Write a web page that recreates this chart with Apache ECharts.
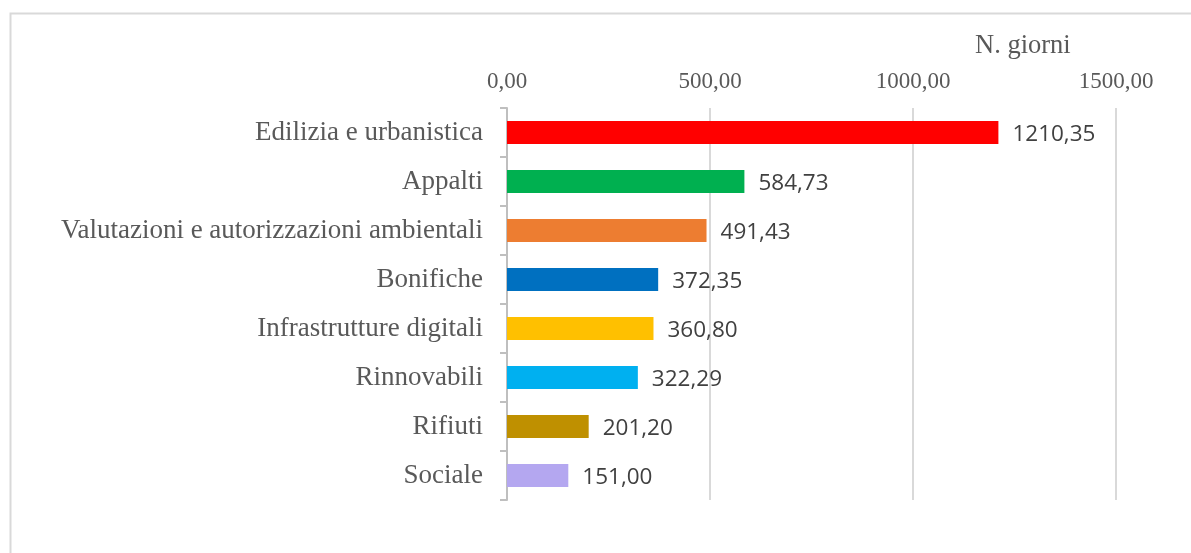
<!DOCTYPE html>
<html>
<head>
<meta charset="utf-8">
<script src="https://cdn.jsdelivr.net/npm/echarts@6/dist/echarts.min.js"></script>
<style>
html,body{margin:0;padding:0;background:#fff;}
#c{width:1191px;height:553px;}
</style>
</head>
<body>
<div id="c"></div>
<script>
const categories = ["Edilizia e urbanistica","Appalti","Valutazioni e autorizzazioni ambientali","Bonifiche","Infrastrutture digitali","Rinnovabili","Rifiuti","Sociale"];
const values = [1210.35, 584.73, 491.43, 372.35, 360.80, 322.29, 201.20, 151.00];
const barColors = ["#ff0000","#00b050","#ed7d31","#0070c0","#ffc000","#00b0f0","#bf9000","#b4a7f0"];
const xTicks = [0, 500, 1000, 1500];
const axisTitle = "N. giorni";

const fmt = v => v.toFixed(2).replace('.', ',');
const chart = echarts.init(document.getElementById('c'));
chart.setOption({
  animation: false,
  backgroundColor: '#fff',
  graphic: [{
    type: 'rect', left: 8, top: 11,
    shape: {width: 1300, height: 700},
    style: {fill: 'none', stroke: '#d9d9d9', lineWidth: 2},
    silent: true
  }, {
    type: 'text', x: 975, y: 46,
    style: {text: axisTitle, font: '26.5px "Liberation Serif"', fill: '#595959', textAlign: 'left', textVerticalAlign: 'middle'}
  }],
  grid: {left: 507, right: 75, top: 108, bottom: 53, containLabel: false},
  xAxis: {
    type: 'value', position: 'top', min: xTicks[0], max: xTicks[xTicks.length-1], interval: 500,
    axisLine: {show: false}, axisTick: {show: false},
    splitLine: {lineStyle: {color: '#d9d9d9', width: 2}},
    axisLabel: {formatter: v => fmt(v), fontFamily: 'Liberation Serif', fontSize: 23, color: '#595959', margin: 15}
  },
  yAxis: {
    type: 'category', data: categories, inverse: true,
    axisLine: {lineStyle: {color: '#bfbfbf', width: 2}},
    axisTick: {show: true, length: 7, lineStyle: {color: '#bfbfbf', width: 2}},
    axisLabel: {fontFamily: 'Liberation Serif', fontSize: 27, color: '#595959', margin: 24, padding: [5, 0, 0, 0]}
  },
  series: [{
    type: 'bar', barWidth: '47%',
    data: values.map((v, i) => ({value: v, itemStyle: {color: barColors[i]}})),
    label: {show: true, position: 'right', distance: 14, offset: [0, 2], formatter: p => fmt(p.value),
      fontFamily: 'Open Sans', fontSize: 22.5, color: '#404040'}
  }]
});
</script>
</body>
</html>
